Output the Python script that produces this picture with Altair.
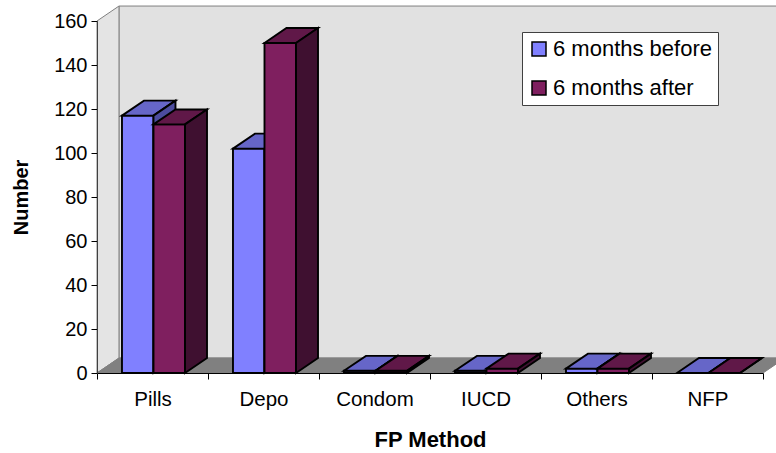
import altair as alt
import pandas as pd

# --- chart values -----------------------------------------------------------
categories = ["Pills", "Depo", "Condom", "IUCD", "Others", "NFP"]
before = [117, 102, 1, 1, 2, 0]
after = [113, 150, 1, 2, 2, 0]
series_names = ["6 months before", "6 months after"]

# --- 3-D look ----------------------------------------------------------------
Y_MAX = 160
N = len(categories)
BAR_LEFT = 0.225     # gap before the first bar in each category slot
BAR_W = 0.284        # width of one bar (category units)
DX = 0.198           # depth offset, category units
DY = 6.8             # depth offset, value units

face_colors = {
    "6 months before": {"front": "#8080FF", "top": "#6666C8", "side": "#4C4C9E"},
    "6 months after": {"front": "#7F1F5F", "top": "#601848", "side": "#3F1030"},
}

FONT = "Liberation Sans"
W, H = 666, 352
EDGE = 1.9

x_scale = alt.Scale(domain=[0, N], nice=False, zero=False)
y_scale = alt.Scale(domain=[0, Y_MAX], nice=False, zero=True)

label_expr = "[" + ",".join(f"'{c}'" for c in categories) + ",''][datum.value]"

x_axis = alt.Axis(
    values=list(range(N + 1)), labelExpr=label_expr, labelOffset=W / N / 2,
    labelFlush=False, labelOverlap=False, labelFont=FONT, labelFontSize=20.5,
    labelColor="black", labelPadding=10, tickSize=6, tickColor="black",
    domainColor="black", grid=False, title="FP Method", titleFont=FONT,
    titleFontSize=22, titleFontWeight="bold", titleColor="black",
    titlePadding=20, zindex=1,
)
y_axis = alt.Axis(
    values=list(range(0, Y_MAX + 1, 20)), labelFont=FONT, labelFontSize=20,
    labelColor="black", labelPadding=4, tickSize=6, tickColor="black",
    domainColor="#404040", grid=False, title="Number", titleFont=FONT,
    titleFontSize=20, titleFontWeight="bold", titleColor="black",
    titlePadding=22, zindex=1,
)


def area_layer(df, fill, stroke, width=1.0):
    return alt.Chart(df).mark_area(
        orient="vertical", fill=fill, stroke=stroke, strokeWidth=width,
        opacity=1, clip=False,
    ).encode(
        x=alt.X("x:Q", scale=x_scale, axis=x_axis),
        y=alt.Y("y:Q", scale=y_scale, axis=y_axis, stack=None),
        y2="y2:Q",
    )


# walls and floor
back_wall = alt.Chart(pd.DataFrame({"x": [DX], "x2": [N + DX + 0.3],
                                    "y": [DY], "y2": [Y_MAX + DY]})).mark_rect(
    fill="#E1E1E1", stroke="#808080", strokeWidth=1, clip=False
).encode(
    x=alt.X("x:Q", scale=x_scale, axis=x_axis), x2="x2:Q",
    y=alt.Y("y:Q", scale=y_scale, axis=y_axis), y2="y2:Q",
)
left_wall = area_layer(
    pd.DataFrame({"x": [0, DX], "y": [Y_MAX, Y_MAX + DY], "y2": [0, DY]}),
    "#E4E4E4", "#808080",
)
floor = area_layer(
    pd.DataFrame({"x": [0, DX, N, N + DX], "y": [0, DY, DY, DY], "y2": [0, 0, 0, DY]}),
    "#808080", "#808080",
)

layers = [back_wall, left_wall, floor]

# bars: front faces as bars, top and side faces as parallelogram areas
for s_idx, (name, values) in enumerate(zip(series_names, [before, after])):
    fronts, faces = [], []
    for i, (cat, v) in enumerate(zip(categories, values)):
        xl = i + BAR_LEFT + s_idx * BAR_W
        xr = xl + BAR_W
        fronts.append({"series": name, "category": cat, "x": xl, "x2": xr, "y": 0, "y2": v})
        cols = face_colors[name]
        top_key, side_key = f"{cat}-top", f"{cat}-side"
        for x, y, y2 in [(xl, v, v), (xl + DX, v + DY, v), (xr, v + DY, v), (xr + DX, v + DY, v + DY)]:
            faces.append({"key": top_key, "fill": cols["top"], "x": x, "y": y, "y2": y2})
        for x, y, y2 in [(xr, v, 0), (xr + DX, v + DY, DY)]:
            faces.append({"key": side_key, "fill": cols["side"], "x": x, "y": y, "y2": y2})

    front_layer = alt.Chart(pd.DataFrame(fronts)).mark_bar(
        stroke="black", strokeWidth=EDGE, opacity=1, clip=False
    ).encode(
        x=alt.X("x:Q", scale=x_scale, axis=x_axis), x2="x2:Q",
        y=alt.Y("y:Q", scale=y_scale, axis=y_axis, stack=None), y2="y2:Q",
        color=alt.Color(
            "series:N",
            scale=alt.Scale(domain=series_names,
                            range=[face_colors[n]["front"] for n in series_names]),
            legend=alt.Legend(
                title=None, orient="none", legendX=425, legendY=11,
                symbolType="square", symbolSize=196, symbolStrokeColor="black",
                symbolStrokeWidth=1.5, labelFont=FONT, labelFontSize=22,
                labelColor="black", labelOffset=3, rowPadding=17, padding=6,
                fillColor="white", strokeColor="#404040", labelLimit=300,
            ),
        ),
    )
    face_layer = alt.Chart(pd.DataFrame(faces)).mark_area(
        orient="vertical", stroke="black", strokeWidth=EDGE, opacity=1, clip=False
    ).encode(
        x=alt.X("x:Q", scale=x_scale, axis=x_axis),
        y=alt.Y("y:Q", scale=y_scale, axis=y_axis, stack=None),
        y2="y2:Q",
        fill=alt.Fill("fill:N", scale=None),
        detail="key:N",
    )
    layers += [front_layer, face_layer]

chart = alt.layer(*layers).properties(
    width=W, height=H,
    autosize=alt.AutoSizeParams(type="none"),
    padding={"left": 97, "top": 21, "right": 13, "bottom": 80},
    background="white",
).configure_view(stroke=None)

chart.save("out.html", embed_options={"renderer": "svg", "actions": False})
